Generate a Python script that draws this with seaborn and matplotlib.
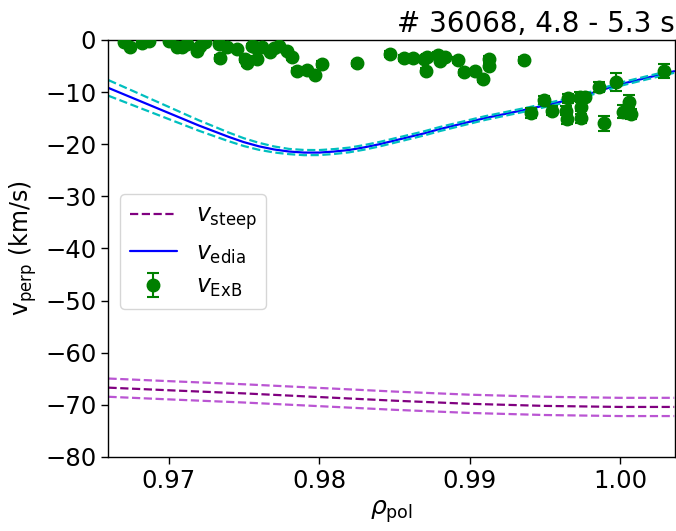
import numpy as np
import pandas as pd
import matplotlib
matplotlib.use("Agg")
import matplotlib.pyplot as plt
from matplotlib.lines import Line2D
import seaborn as sns

# Edge diagnostic profile (v_edia) with its uncertainty band
rho_edia = [0.966, 0.967, 0.968, 0.969, 0.970, 0.971, 0.972, 0.973, 0.974, 0.975,
            0.976, 0.977, 0.978, 0.979, 0.980, 0.981, 0.982, 0.983, 0.984, 0.985,
            0.986, 0.987, 0.988, 0.989, 0.990, 0.991, 0.992, 0.994, 0.996, 0.998,
            1.000, 1.002, 1.0036]
v_edia = [-9.2, -10.4, -11.6, -12.8, -14.0, -15.2, -16.4, -17.5, -18.6, -19.6,
          -20.4, -21.0, -21.4, -21.6, -21.6, -21.4, -21.1, -20.6, -20.0, -19.3,
          -18.6, -17.9, -17.1, -16.4, -15.7, -15.0, -14.4, -13.2, -11.9, -10.3,
          -8.5, -7.1, -6.0]
v_edia_err = [1.5, 1.42, 1.34, 1.25, 1.17, 1.08, 1.0, 0.92, 0.83, 0.75,
              0.67, 0.58, 0.5, 0.5, 0.48, 0.47, 0.45, 0.44, 0.43, 0.42,
              0.41, 0.4, 0.39, 0.38, 0.37, 0.36, 0.35, 0.34, 0.33, 0.32,
              0.31, 0.3, 0.3]

# Steep-gradient estimate (v_steep) with its uncertainty band
rho_steep = [0.966, 0.970, 0.975, 0.980, 0.985, 0.990, 0.995, 1.000, 1.0036]
v_steep = [-66.7, -67.2, -67.8, -68.5, -69.2, -69.8, -70.2, -70.4, -70.4]
v_steep_err = [1.75, 1.75, 1.75, 1.75, 1.75, 1.75, 1.75, 1.75, 1.75]

# Measured E x B velocity
rho_exb = [0.96702, 0.96746, 0.96824, 0.96868, 0.97000, 0.97056, 0.97089, 0.97123,
           0.97189, 0.97211, 0.97244, 0.97332, 0.97344, 0.97388, 0.97455, 0.97510,
           0.97521, 0.97554, 0.97576, 0.97587, 0.97621, 0.97676, 0.97698, 0.97731,
           0.97787, 0.97820, 0.97853, 0.97919, 0.97975, 0.98019, 0.98251, 0.98468,
           0.98565, 0.98623, 0.98694, 0.98716, 0.98712, 0.98787, 0.98805, 0.98838,
           0.98926, 0.98964, 0.99037, 0.99088, 0.99132, 0.99132, 0.99362,
           0.99407, 0.99495, 0.99550, 0.99639, 0.99656, 0.99650, 0.99734, 0.99767,
           0.99739, 0.99739, 0.99860, 0.99895, 0.99971, 1.00018, 1.00058, 1.00073,
           1.00292]
v_exb = [-0.44, -1.29, -0.63, -0.25, -0.10, -1.29, -1.40, -0.77,
         -2.05, -1.09, -0.44, -0.77, -3.45, -1.29, -1.73, -3.65,
         -4.47, -1.09, -1.40, -3.65, -1.40, -2.36, -1.53, -1.09,
         -2.17, -3.32, -5.89, -5.76, -6.66, -4.60, -4.47, -2.69,
         -3.45, -3.45, -3.65, -3.20, -5.89, -2.82, -3.97, -3.20,
         -3.84, -6.20, -6.00, -7.48, -3.65, -4.93, -3.84,
         -14.06, -11.51, -13.56, -13.56, -11.18, -15.21, -10.88, -10.99,
         -12.80, -15.02, -9.07, -15.98, -8.00, -13.76, -11.84, -14.25,
         -6.00]
v_exb_err = [0.4, 0.4, 0.4, 0.4, 0.4, 0.4, 0.4, 0.4,
             0.4, 0.4, 0.4, 0.4, 0.5, 0.4, 0.4, 0.5,
             0.5, 0.4, 0.4, 0.5, 0.4, 0.4, 0.4, 0.4,
             0.4, 0.5, 0.5, 0.5, 0.5, 0.5, 0.5, 0.5,
             0.5, 0.5, 0.5, 0.5, 0.5, 0.5, 0.5, 0.5,
             0.5, 0.5, 0.5, 0.5, 0.5, 0.5, 0.5,
             1.0, 0.8, 0.8, 0.8, 0.9, 0.9, 0.9, 0.8,
             0.9, 0.9, 1.0, 1.4, 1.7, 1.3, 1.3, 1.0,
             1.3]

xticks = [0.97, 0.98, 0.99, 1.00]
xticklabels = ["0.97", "0.98", "0.99", "1.00"]
yticks = [0, -10, -20, -30, -40, -50, -60, -70, -80]
title = "# 36068, 4.8 - 5.3 s"

edia = pd.DataFrame({"rho": rho_edia, "v": v_edia, "err": v_edia_err})
steep = pd.DataFrame({"rho": rho_steep, "v": v_steep, "err": v_steep_err})

sns.set_style("ticks")
plt.rcParams["font.family"] = ["DejaVu Sans"]
plt.rcParams["mathtext.fontset"] = "dejavusans"
for key in ("text.color", "axes.labelcolor", "xtick.color", "ytick.color", "axes.edgecolor"):
    plt.rcParams[key] = "black"

fig = plt.figure(figsize=(6.76, 5.31), dpi=100)
ax = fig.add_axes([0.160, 0.1394, 0.8385, 0.7853])

lw = 1.6
# steep-gradient profile and its band
sns.lineplot(x=steep["rho"], y=steep["v"] + steep["err"], ax=ax, color="mediumorchid",
             linestyle="--", linewidth=lw)
sns.lineplot(x=steep["rho"], y=steep["v"] - steep["err"], ax=ax, color="mediumorchid",
             linestyle="--", linewidth=lw)
sns.lineplot(x=steep["rho"], y=steep["v"], ax=ax, color="purple",
             linestyle="--", linewidth=lw)

# edge diagnostic profile and its band
sns.lineplot(x=edia["rho"], y=edia["v"], ax=ax, color="blue", linewidth=lw)
sns.lineplot(x=edia["rho"], y=edia["v"] + edia["err"], ax=ax, color="c",
             linestyle="--", linewidth=lw)
sns.lineplot(x=edia["rho"], y=edia["v"] - edia["err"], ax=ax, color="c",
             linestyle="--", linewidth=lw)

# E x B measurements
eb = ax.errorbar(rho_exb, v_exb, yerr=v_exb_err, fmt="o", color="green",
                 markersize=9, capsize=4, elinewidth=1.5, capthick=1.5, zorder=5)

ax.set_xlim(0.96598, 1.00365)
ax.set_ylim(-80, 0)
ax.set_xticks(xticks)
ax.set_xticklabels(xticklabels)
ax.set_yticks(yticks)
ax.set_yticklabels([f"{t}".replace("-", "\u2212") for t in yticks])
ax.tick_params(labelsize=17.5, length=5, width=1, color="black", direction="out")
for s in ax.spines.values():
    s.set_color("black")
    s.set_linewidth(1.0)

ax.set_xlabel(r"$\rho_\mathrm{pol}$", fontsize=18)
ax.set_ylabel(r"v$_\mathrm{perp}$ (km/s)", fontsize=17)
ax.set_title(title, loc="right", fontsize=20)

handles = [
    Line2D([], [], color="purple", linestyle="--", linewidth=lw),
    Line2D([], [], color="blue", linewidth=lw),
    eb,
]
labels = [r"$v_\mathrm{steep}$", r"$v_\mathrm{edia}$", r"$v_\mathrm{ExB}$"]
ax.legend(handles, labels, loc="upper left", bbox_to_anchor=(0.021, 0.631),
          borderaxespad=0, fontsize=17, framealpha=0.8, labelspacing=0.35)

fig.savefig("out.png", dpi=100)
